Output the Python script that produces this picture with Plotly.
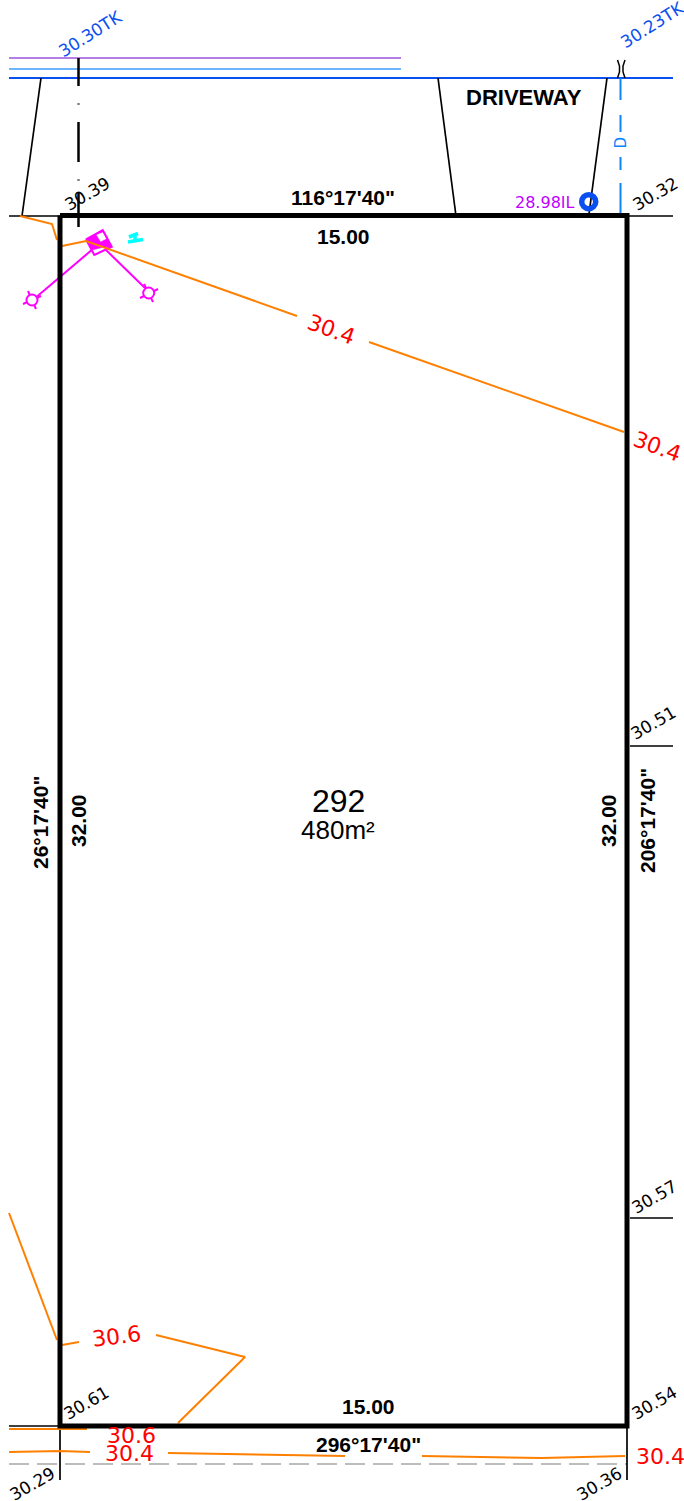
import plotly.graph_objects as go

LOT_X = [60, 627, 627, 60, 60]
LOT_Y = [215.5, 215.5, 1426, 1426, 215.5]
BLACK_THIN = [
    ([41, 22], [78, 216]), ([438, 456], [78, 216]), ([607, 589], [78, 214]),
    ([9, 60], [216, 216]), ([627, 673], [216, 216]),
    ([630, 673], [746, 746]), ([630, 673], [1218, 1218]),
    ([9, 60], [1426, 1426]), ([60, 60], [1426, 1480]), ([627, 627], [1426, 1480]),
]
SERVICE_DASHES = [([78.5, 78.5], [58, 86]), ([78.5, 78.5], [103.5, 104.5]), ([78.5, 78.5], [122, 162]),
                  ([78.5, 78.5], [179.5, 180.5]), ([78.5, 78.5], [193, 227])]
DRAIN_DASHES = [([620.5, 620.5], [78, 100]), ([620.5, 620.5], [115, 132]),
                ([620.5, 620.5], [157, 170]), ([620.5, 620.5], [183, 214])]
BRACKETS = [([617.5, 619.5, 619.5, 617.5], [60, 66, 72, 78]), ([625, 623, 623, 625], [60, 66, 72, 78])]
ORANGE = [
    ([20, 52, 57], [216, 224, 240]), ([62, 86, 297], [246, 241, 316]), ([369, 624], [342, 432]),
    ([9, 57], [1213, 1340]), ([62, 79], [1345, 1342]), ([156, 245, 178], [1335, 1357, 1423]),
    ([9, 87], [1429, 1429]), ([9, 60, 90], [1452, 1451, 1452]), ([168, 345], [1453, 1456]),
    ([422, 542, 625], [1456, 1458, 1456]),
]
MAG_BOX_X = [86, 102.7, 111.7, 94.3, 86]
MAG_BOX_Y = [239.3, 230, 246.7, 255, 239.3]
MAG_FILL_X = [85.7, 103.3, 112.3, 102, 92]
MAG_FILL_Y = [239.3, 230.3, 247, 247.5, 250]
MAG_WHITE_X = [96.5, 103, 106.5, 100.5]
MAG_WHITE_Y = [235, 232.5, 238.5, 241.5]
MAG_LINES = [([91.7, 36.7], [250, 296.7]), ([106, 145], [250, 288])]
VALVE_X = [32, 148.7]
VALVE_Y = [300, 293]
VALVE_TICKS = [
    ([23, 41], [304, 296]), ([28, 36], [291, 309]),
    ([140, 158], [298, 289]), ([144, 153], [284, 302]),
]
CYAN = [([129, 138], [237, 233.5]), ([128, 143], [242, 239.5]), ([135, 135], [235, 241])]
PIT_X = [588.7]
PIT_Y = [201.7]

LABELS = [
    ("30.30TK", 90, 34, -32, 17, "#0a50f0", False),
    ("30.23TK", 652, 25, -32, 17, "#0a50f0", False),
    ("30.39", 87, 194, -30, 17, "#000000", False),
    ("30.32", 655, 194, -30, 17, "#000000", False),
    ("30.51", 653, 723, -30, 17, "#000000", False),
    ("30.57", 654, 1197, -30, 17, "#000000", False),
    ("30.54", 654, 1403, -30, 17, "#000000", False),
    ("30.61", 86, 1403, -30, 17, "#000000", False),
    ("30.29", 32, 1484, -30, 17, "#000000", False),
    ("30.36", 599, 1484, -30, 17, "#000000", False),
    ("30.4", 331, 329, 20, 22, "#ff0000", False),
    ("30.4", 657, 446, 20, 22, "#ff0000", False),
    ("30.6", 116, 1336, -7, 22, "#ff0000", False),
    ("30.6", 131, 1435, 0, 22, "#ff0000", False),
    ("30.4", 129, 1453, 0, 22, "#ff0000", False),
    ("30.4", 660, 1456, 0, 22, "#ff0000", False),
    ("28.98IL", 545, 202, 0, 16, "#c000ff", False),
    ("D", 620.5, 143, -90, 15, "#0a84ff", False),
]
BOLD_LABELS = [
    ("DRIVEWAY", 524, 97, 0, 22),
    ("116°17'40\"", 343, 197, 0, 21),
    ("15.00", 343, 236, 0, 21),
    ("32.00", 78, 821, -90, 21),
    ("26°17'40\"", 40.5, 822.5, -90, 21),
    ("32.00", 608, 821, -90, 21),
    ("206°17'40\"", 647, 821, -90, 21),
    ("15.00", 368, 1406, 0, 21),
    ("296°17'40\"", 368, 1444, 0, 21),
]
PLAIN_LABELS = [
    ("292", 338, 801, 0, 32),
    ("480m²", 338, 830, 0, 26),
]

fig = go.Figure()


def line(x, y, color, width, dash=None):
    fig.add_trace(go.Scatter(x=x, y=y, mode="lines", hoverinfo="skip", showlegend=False,
                             line=dict(color=color, width=width, dash=dash)))


def fill(x, y, color):
    fig.add_trace(go.Scatter(x=x, y=y, mode="lines", fill="toself", fillcolor=color,
                             line=dict(color=color, width=0.5), hoverinfo="skip", showlegend=False))


line([9, 401], [58, 58], "#b57ee6", 2)
line([9, 401], [69, 69], "#6fb4ff", 2)
line([9, 673], [78, 78], "#0a50f0", 2)
line([9, 627], [1464, 1464], "#bdbdbd", 2, "20px,8px")
for x, y in BLACK_THIN:
    line(x, y, "#000000", 1.7)
for x, y in SERVICE_DASHES:
    line(x, y, "#000000", 2.5)
for x, y in DRAIN_DASHES:
    line(x, y, "#0a84ff", 2)
for x, y in BRACKETS:
    line(x, y, "#000000", 1.5)
for x, y in CYAN:
    line(x, y, "#00ffff", 3.5)
fill(MAG_FILL_X, MAG_FILL_Y, "#ff00ff")
fill(MAG_WHITE_X, MAG_WHITE_Y, "#ffffff")
line(MAG_BOX_X, MAG_BOX_Y, "#ff00ff", 2)
for x, y in MAG_LINES + VALVE_TICKS:
    line(x, y, "#ff00ff", 2)
fig.add_trace(go.Scatter(x=VALVE_X, y=VALVE_Y, mode="markers", hoverinfo="skip", showlegend=False,
                         marker=dict(symbol="circle", size=11, color="#ffffff", line=dict(color="#ff00ff", width=2))))
for x, y in ORANGE:
    line(x, y, "#ff8000", 2)
fig.add_trace(go.Scatter(x=PIT_X, y=PIT_Y, mode="markers", hoverinfo="skip", showlegend=False,
                         marker=dict(symbol="circle-open", size=14, color="#0a50f0", line=dict(color="#0a50f0", width=5.5))))
line(LOT_X, LOT_Y, "#000000", 5)

for text, x, y, rot, size, color, bold in LABELS:
    fig.add_annotation(x=x, y=y, text=text, textangle=rot, showarrow=False, xanchor="center", yanchor="middle",
                       font=dict(family="DejaVu Sans", size=size, color=color))
for text, x, y, rot, size in BOLD_LABELS:
    fig.add_annotation(x=x, y=y, text=f"<b>{text}</b>", textangle=rot, showarrow=False, xanchor="center",
                       yanchor="middle", font=dict(family="Liberation Sans", size=size, color="#000000"))
for text, x, y, rot, size in PLAIN_LABELS:
    fig.add_annotation(x=x, y=y, text=text, textangle=rot, showarrow=False, xanchor="center",
                       yanchor="middle", font=dict(family="Liberation Sans", size=size, color="#000000"))

fig.update_layout(width=684, height=1501, margin=dict(l=0, r=0, t=0, b=0), paper_bgcolor="white",
                  plot_bgcolor="white", showlegend=False,
                  xaxis=dict(range=[0, 684], visible=False, fixedrange=True),
                  yaxis=dict(range=[1501, 0], visible=False, fixedrange=True))
fig.write_html("out.html", config={"displayModeBar": False},
               post_script="document.body.style.margin='0';")
